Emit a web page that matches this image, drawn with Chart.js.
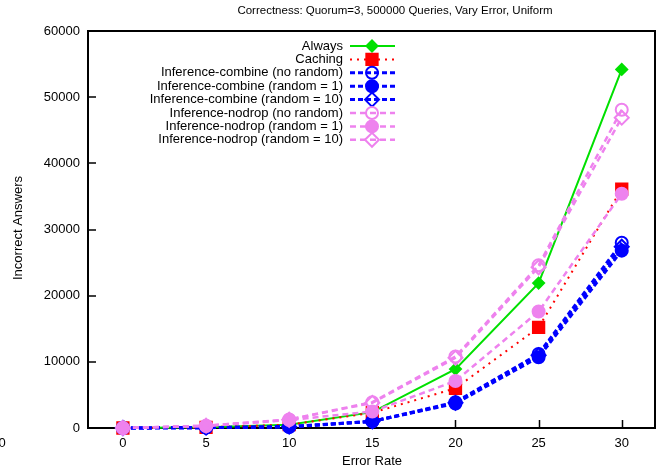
<!DOCTYPE html>
<html>
<head>
<meta charset="utf-8">
<script src="https://cdn.jsdelivr.net/npm/chart.js@4.4.1/dist/chart.umd.min.js"></script>
<style>
  html, body { margin: 0; padding: 0; background: #fff; }
  #wrap { width: 662px; height: 473px; }
</style>
</head>
<body>
<div id="wrap"><canvas id="chart" width="662" height="473"></canvas></div>
<script>
// Error rates on the x axis
const errorRates = [0, 5, 10, 15, 20, 25, 30];
const xTicks = [0, 5, 10, 15, 20, 25, 30];

// Incorrect answers per strategy
const always          = [0, 100, 500, 2400, 8900, 21900, 54200];
const caching         = [0, 100, 500, 2300, 6000, 15200, 36100];
const combineNoRandom = [0, 50, 200, 1000, 3900, 11200, 28000];
const combineRandom1  = [0, 50, 150, 1000, 3700, 10700, 26800];
const combineRandom10 = [0, 50, 200, 1000, 3800, 11000, 27400];
const nodropNoRandom  = [0, 350, 1300, 3900, 10800, 24600, 48100];
const nodropRandom1   = [0, 300, 1200, 2500, 7100, 17600, 35400];
const nodropRandom10  = [0, 350, 1250, 3800, 10600, 24300, 46900];

const FONT = 'Liberation Sans, Arial, Helvetica, sans-serif';
const GREEN = '#00e000';
const RED = '#ff0000';
const BLUE = '#0000ff';
const VIOLET = '#ee82ee';
const NONE = 'rgba(0,0,0,0)';

function pts(values) {
    return values.map((v, i) => ({ x: errorRates[i], y: v }));
}

const seriesDefs = [
    { label: 'Always', data: always, color: GREEN, dash: [], width: 2, shape: 'rectRot', radius: 5.5, filled: true },
    { label: 'Caching', data: caching, color: RED, dash: [2, 5], width: 2, shape: 'rect', radius: 8, filled: true },
    { label: 'Inference-combine (no random)', data: combineNoRandom, color: BLUE, dash: [5, 3], width: 3, shape: 'circle', radius: 6, filled: false },
    { label: 'Inference-combine (random = 1)', data: combineRandom1, color: BLUE, dash: [5, 3], width: 3, shape: 'circle', radius: 6, filled: true },
    { label: 'Inference-combine (random = 10)', data: combineRandom10, color: BLUE, dash: [5, 3], width: 3, shape: 'rectRot', radius: 7, filled: false },
    { label: 'Inference-nodrop (no random)', data: nodropNoRandom, color: VIOLET, dash: [6, 4], width: 2.5, shape: 'circle', radius: 6, filled: false },
    { label: 'Inference-nodrop (random = 1)', data: nodropRandom1, color: VIOLET, dash: [6, 4], width: 2.5, shape: 'circle', radius: 6, filled: true },
    { label: 'Inference-nodrop (random = 10)', data: nodropRandom10, color: VIOLET, dash: [6, 4], width: 2.5, shape: 'rectRot', radius: 7, filled: false }
];

const datasets = seriesDefs.map((s, i) => ({
    label: s.label,
    data: pts(s.data),
    borderColor: s.color,
    borderWidth: s.width,
    borderDash: s.dash,
    pointStyle: s.shape,
    pointRadius: s.radius,
    pointBackgroundColor: s.filled ? s.color : NONE,
    pointBorderColor: s.color,
    pointBorderWidth: 2,
    tension: 0,
    fill: false,
    clip: false,
    order: seriesDefs.length - 1 - i // later series drawn on top
}));

// gnuplot-style frame, inward ticks, title and key
const plotDecor = {
    id: 'plotDecor',
    beforeDatasetsDraw(chart) {
        const { ctx, chartArea: a, scales } = chart;
        ctx.save();
        ctx.strokeStyle = '#000';
        ctx.lineWidth = 1.5;
        ctx.beginPath();
        xTicks.forEach(t => {
            const x = Math.round(scales.x.getPixelForValue(t)) + 0.5;
            ctx.moveTo(x, a.bottom);
            ctx.lineTo(x, a.bottom - 8);
        });
        scales.y.ticks.forEach(t => {
            const y = Math.round(scales.y.getPixelForValue(t.value));
            ctx.moveTo(a.left, y);
            ctx.lineTo(a.left + 8, y);
        });
        ctx.stroke();
        ctx.lineWidth = 2;
        ctx.strokeRect(a.left, a.top, a.right - a.left, a.bottom - a.top);

        ctx.fillStyle = '#000';
        ctx.textAlign = 'center';
        ctx.textBaseline = 'middle';
        ctx.font = '11.5px ' + FONT;
        ctx.fillText('Correctness: Quorum=3, 500000 Queries, Vary Error, Uniform', 395, 11);
        ctx.font = '13px ' + FONT;
        ctx.fillText('Error Rate', 372, 461);
        ctx.fillText('0', 2, 443);
        ctx.translate(18, 228);
        ctx.rotate(-Math.PI / 2);
        ctx.fillText('Incorrect Answers', 0, 0);
        ctx.restore();
    },
    afterDatasetsDraw(chart) {
        const { ctx } = chart;
        ctx.save();
        ctx.font = '13px ' + FONT;
        ctx.textAlign = 'right';
        ctx.textBaseline = 'middle';
        chart.data.datasets.forEach((ds, i) => {
            const y = 46 + i * 13.4;
            ctx.fillStyle = '#000';
            ctx.fillText(ds.label, 343, y);
            ctx.strokeStyle = ds.borderColor;
            ctx.lineWidth = ds.borderWidth;
            ctx.setLineDash(ds.borderDash);
            ctx.beginPath();
            ctx.moveTo(350, y);
            ctx.lineTo(395, y);
            ctx.stroke();
            ctx.setLineDash([]);
            ctx.fillStyle = ds.pointBackgroundColor;
            ctx.strokeStyle = ds.pointBorderColor;
            ctx.lineWidth = ds.pointBorderWidth;
            Chart.helpers.drawPoint(ctx, {
                pointStyle: ds.pointStyle,
                radius: ds.pointRadius,
                borderWidth: ds.pointBorderWidth,
                rotation: 0
            }, 372, y);
        });
        ctx.restore();
    }
};

new Chart(document.getElementById('chart'), {
    type: 'line',
    data: { datasets: datasets },
    plugins: [plotDecor],
    options: {
        responsive: false,
        animation: false,
        events: [],
        layout: { autoPadding: false, padding: { top: 31, right: 7, left: 1, bottom: 0 } },
        plugins: {
            legend: { display: false },
            tooltip: { enabled: false },
            title: { display: false }
        },
        scales: {
            x: {
                type: 'linear',
                min: -2.1,
                max: 32,
                afterBuildTicks: scale => { scale.ticks = xTicks.map(v => ({ value: v })); },
                afterFit: scale => {
                    scale.height = 45;
                    scale.paddingLeft = 0;
                    scale.paddingRight = 0;
                },
                grid: { display: false, drawTicks: false },
                border: { display: false },
                ticks: { color: '#000', font: { family: FONT, size: 13 }, padding: 8, maxRotation: 0 }
            },
            y: {
                min: 0,
                max: 60000,
                afterFit: scale => {
                    scale.width = 87;
                    scale.paddingTop = 0;
                    scale.paddingBottom = 0;
                },
                grid: { display: false, drawTicks: false },
                border: { display: false },
                ticks: {
                    stepSize: 10000,
                    color: '#000',
                    font: { family: FONT, size: 13 },
                    padding: 8,
                    callback: v => String(v)
                }
            }
        }
    }
});
</script>
</body>
</html>
